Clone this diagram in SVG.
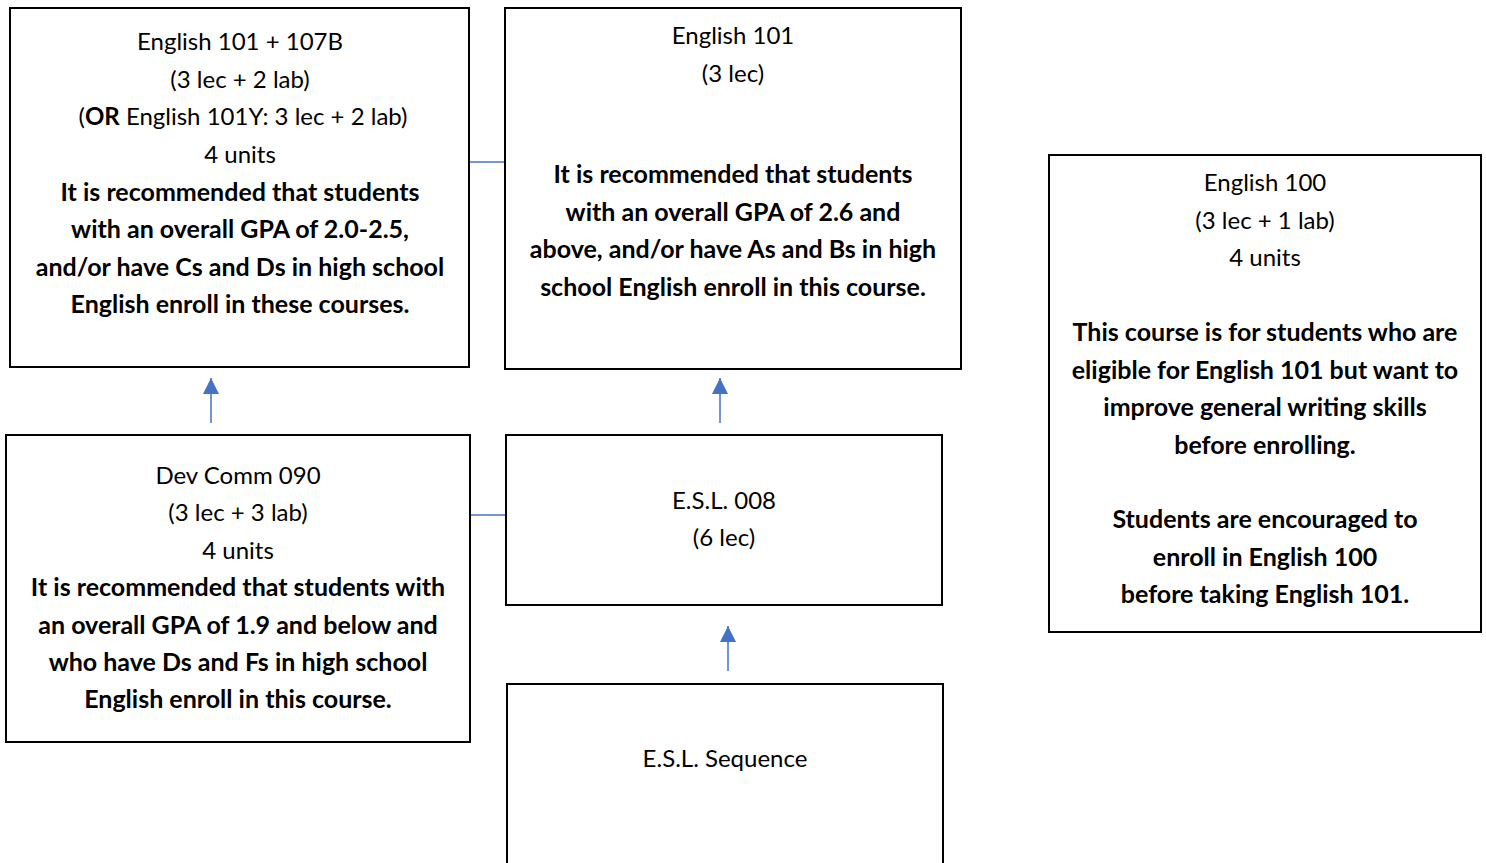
<svg xmlns="http://www.w3.org/2000/svg" width="1486" height="863" viewBox="0 0 1486 863">
<style>
.box{fill:#fff;stroke:#000;stroke-width:2}
text{font-family:Lato,"Liberation Sans",sans-serif;font-size:24px;fill:#000;text-anchor:middle}
.b{font-weight:bold;font-size:25px}
tspan.b{font-size:24px}
.con{stroke:#4472C4;stroke-width:1.5;fill:none}
</style>
<defs>
<marker id="ah2" viewBox="0 0 16 16" refX="16" refY="8" markerWidth="16" markerHeight="16" markerUnits="userSpaceOnUse" orient="auto">
<path d="M0,0 L16,8 L0,16 Z" fill="#4472C4"/>
</marker>
</defs>
<rect width="1486" height="863" fill="#fff"/>
<g id="connectors">
<line class="con" x1="469" y1="162" x2="505" y2="162"/>
<line class="con" x1="470" y1="515" x2="506" y2="515"/>
<line class="con" x1="211" y1="423" x2="211" y2="378" marker-end="url(#ah2)"/>
<line class="con" x1="720" y1="423" x2="720" y2="378" marker-end="url(#ah2)"/>
<line class="con" x1="728" y1="671" x2="728" y2="626" marker-end="url(#ah2)"/>
</g>
<g id="eng101_107b">
<rect class="box" x="10" y="8" width="459" height="359"/>
<text x="240" y="50">English 101 + 107B</text>
<text x="240" y="88">(3 lec + 2 lab)</text>
<text x="243" y="125">(<tspan class="b">OR</tspan> English 101Y: 3 lec + 2 lab)</text>
<text x="240" y="163">4 units</text>
<text class="b" x="240" y="201">It is recommended that students</text>
<text class="b" x="240" y="238">with an overall GPA of 2.0-2.5,</text>
<text class="b" x="240" y="276">and/or have Cs and Ds in high school</text>
<text class="b" x="240" y="313">English enroll in these courses.</text>
</g>
<g id="eng101">
<rect class="box" x="505" y="8" width="456" height="361"/>
<text x="733" y="44">English 101</text>
<text x="733" y="82">(3 lec)</text>
<text class="b" x="733" y="183">It is recommended that students</text>
<text class="b" x="733" y="221">with an overall GPA of 2.6 and</text>
<text class="b" x="733" y="258">above, and/or have As and Bs in high</text>
<text class="b" x="733" y="296">school English enroll in this course.</text>
</g>
<g id="eng100">
<rect class="box" x="1049" y="155" width="432" height="477"/>
<text x="1265" y="191">English 100</text>
<text x="1265" y="229">(3 lec + 1 lab)</text>
<text x="1265" y="266">4 units</text>
<text class="b" x="1265" y="341">This course is for students who are</text>
<text class="b" x="1265" y="379">eligible for English 101 but want to</text>
<text class="b" x="1265" y="416">improve general writing skills</text>
<text class="b" x="1265" y="454">before enrolling.</text>
<text class="b" x="1265" y="528">Students are encouraged to</text>
<text class="b" x="1265" y="566">enroll in English 100</text>
<text class="b" x="1265" y="603">before taking English 101.</text>
</g>
<g id="devcomm090">
<rect class="box" x="6" y="435" width="464" height="307"/>
<text x="238" y="484">Dev Comm 090</text>
<text x="238" y="521">(3 lec + 3 lab)</text>
<text x="238" y="559">4 units</text>
<text class="b" x="238" y="596">It is recommended that students with</text>
<text class="b" x="238" y="634">an overall GPA of 1.9 and below and</text>
<text class="b" x="238" y="671">who have Ds and Fs in high school</text>
<text class="b" x="238" y="708">English enroll in this course.</text>
</g>
<g id="esl008">
<rect class="box" x="506" y="435" width="436" height="170"/>
<text x="724" y="509">E.S.L. 008</text>
<text x="724" y="546">(6 lec)</text>
</g>
<g id="eslseq">
<rect class="box" x="507" y="684" width="436" height="190"/>
<text x="725" y="767">E.S.L. Sequence</text>
</g>
</svg>
